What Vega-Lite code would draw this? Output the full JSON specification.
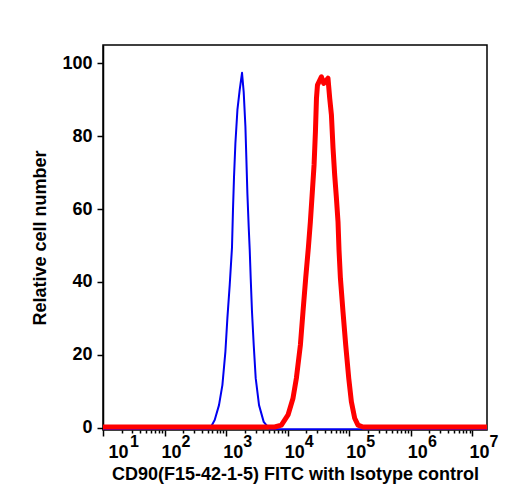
{
  "$schema": "https://vega.github.io/schema/vega-lite/v6.json",
  "autosize": {"type": "none"},
  "padding": {"left": 103, "top": 45, "right": 21, "bottom": 70},
  "width": 384,
  "height": 385,
  "background": "white",
  "config": {
    "view": {"stroke": "black", "strokeWidth": 1.5},
    "font": "Liberation Sans",
    "axis": {
      "grid": false,
      "labelFont": "Liberation Sans",
      "titleFont": "Liberation Sans",
      "labelColor": "black",
      "titleColor": "black",
      "tickColor": "black",
      "domainColor": "black",
      "labelFontWeight": "bold",
      "titleFontWeight": "bold"
    }
  },
  "datasets": {
    "isotype": [
      {"fl": 10, "count": -0.4},
      {"fl": 540.8, "count": -0.4},
      {"fl": 651.6, "count": 2.1},
      {"fl": 765.6, "count": 6.2},
      {"fl": 869, "count": 11.7},
      {"fl": 972.7, "count": 20.9},
      {"fl": 1047, "count": 30.0},
      {"fl": 1143, "count": 39.2},
      {"fl": 1245, "count": 49.5},
      {"fl": 1291, "count": 59.7},
      {"fl": 1343, "count": 68.9},
      {"fl": 1413, "count": 78.0},
      {"fl": 1524, "count": 87.2},
      {"fl": 1660, "count": 92.7},
      {"fl": 1811, "count": 97.4},
      {"fl": 1928, "count": 92.1},
      {"fl": 2056, "count": 82.6},
      {"fl": 2133, "count": 73.5},
      {"fl": 2213, "count": 64.3},
      {"fl": 2323, "count": 55.2},
      {"fl": 2415, "count": 48.8},
      {"fl": 2506, "count": 41.0},
      {"fl": 2630, "count": 31.8},
      {"fl": 2805, "count": 22.7},
      {"fl": 3020, "count": 13.6},
      {"fl": 3420, "count": 6.2},
      {"fl": 4074, "count": 1.6},
      {"fl": 5093, "count": -0.4},
      {"fl": 17245000, "count": -0.4}
    ],
    "cd90": [
      {"fl": 10, "count": 0.2},
      {"fl": 6152, "count": 0.2},
      {"fl": 7889, "count": 0.7},
      {"fl": 10116, "count": 3.5},
      {"fl": 12190, "count": 8.1},
      {"fl": 13836, "count": 13.6},
      {"fl": 16069, "count": 22.7},
      {"fl": 17701, "count": 31.8},
      {"fl": 19588, "count": 41.0},
      {"fl": 21677, "count": 49.5},
      {"fl": 23335, "count": 56.5},
      {"fl": 24831, "count": 63.5},
      {"fl": 26792, "count": 72.1},
      {"fl": 28184, "count": 81.2},
      {"fl": 29309, "count": 90.4},
      {"fl": 30409, "count": 94.0},
      {"fl": 35237, "count": 96.3},
      {"fl": 38459, "count": 94.5},
      {"fl": 45082, "count": 95.9},
      {"fl": 48084, "count": 90.4},
      {"fl": 51286, "count": 85.8},
      {"fl": 54450, "count": 76.7},
      {"fl": 57943, "count": 69.3},
      {"fl": 61802, "count": 63.0},
      {"fl": 65615, "count": 56.5},
      {"fl": 68077, "count": 48.8},
      {"fl": 71779, "count": 41.0},
      {"fl": 79068, "count": 31.8},
      {"fl": 87498, "count": 22.7},
      {"fl": 97949, "count": 13.6},
      {"fl": 108143, "count": 7.1},
      {"fl": 122462, "count": 2.6},
      {"fl": 138676, "count": 0.7},
      {"fl": 167109, "count": 0.2},
      {"fl": 17245000, "count": 0.2}
    ]
  },
  "resolve": {"axis": {"x": "independent"}},
  "layer": [
    {
      "data": {"name": "isotype"},
      "mark": {"type": "line", "color": "#0000f0", "strokeWidth": 2, "strokeJoin": "round", "clip": true},
      "encoding": {
        "x": {
          "field": "fl",
          "type": "quantitative",
          "scale": {"type": "log", "domain": [10, 17245000], "nice": false},
          "axis": {
            "orient": "bottom",
            "title": "CD90(F15-42-1-5) FITC with Isotype control",
            "titleFontSize": 18,
            "titlePadding": 4,
            "domain": false,
            "values": [10, 20, 30, 40, 50, 60, 70, 80, 90,
                       100, 200, 300, 400, 500, 600, 700, 800, 900,
                       1000, 2000, 3000, 4000, 5000, 6000, 7000, 8000, 9000,
                       10000, 20000, 30000, 40000, 50000, 60000, 70000, 80000, 90000,
                       100000, 200000, 300000, 400000, 500000, 600000, 700000, 800000, 900000,
                       1000000, 2000000, 3000000, 4000000, 5000000, 6000000, 7000000, 8000000, 9000000,
                       10000000],
            "labelExpr": "abs(log(datum.value) / LN10 - round(log(datum.value) / LN10)) < 0.001 ? '10' : ''",
            "labelFontSize": 18,
            "labelFlush": false,
            "labelOverlap": false,
            "labelPadding": 7,
            "labelOffset": {"condition": {"test": "datum.value == 10", "value": 15}, "value": 6.5},
            "tickWidth": 1.5,
            "tickSize": {"condition": {"test": "abs(log(datum.value) / LN10 - round(log(datum.value) / LN10)) < 0.001", "value": 6}, "value": 3}
          }
        },
        "y": {
          "field": "count",
          "type": "quantitative",
          "scale": {"domain": [-0.63, 105.02], "nice": false, "zero": false},
          "axis": {
            "title": "Relative cell number",
            "titleFontSize": 18,
            "titlePadding": 12,
            "values": [0, 5, 10, 15, 20, 25, 30, 35, 40, 45, 50, 55, 60, 65, 70, 75, 80, 85, 90, 95, 100],
            "labelExpr": "datum.value % 20 === 0 ? datum.label : ''",
            "labelFontSize": 18,
            "labelPadding": 5,
            "labelOverlap": false,
            "labelFlush": false,
            "domainWidth": 1.5,
            "tickWidth": 1.5,
            "tickSize": {"condition": {"test": "datum.value % 20 === 0", "value": 6}, "value": 3}
          }
        }
      }
    },
    {
      "data": {"name": "cd90"},
      "mark": {"type": "line", "color": "#ff0000", "strokeWidth": 5, "strokeJoin": "round", "clip": true},
      "encoding": {
        "x": {
          "field": "fl",
          "type": "quantitative",
          "axis": {
            "orient": "bottom",
            "title": null,
            "domain": false,
            "values": [10, 100, 1000, 10000, 100000, 1000000, 10000000],
            "labelExpr": "'' + round(log(datum.value) / LN10)",
            "labelFontSize": 16,
            "labelFlush": false,
            "labelOverlap": false,
            "tickSize": 6,
            "tickOpacity": 0,
            "labelPadding": -3,
            "labelOffset": {"condition": {"test": "datum.value == 10", "value": 31}, "value": 21}
          }
        },
        "y": {"field": "count", "type": "quantitative"}
      }
    }
  ]
}
